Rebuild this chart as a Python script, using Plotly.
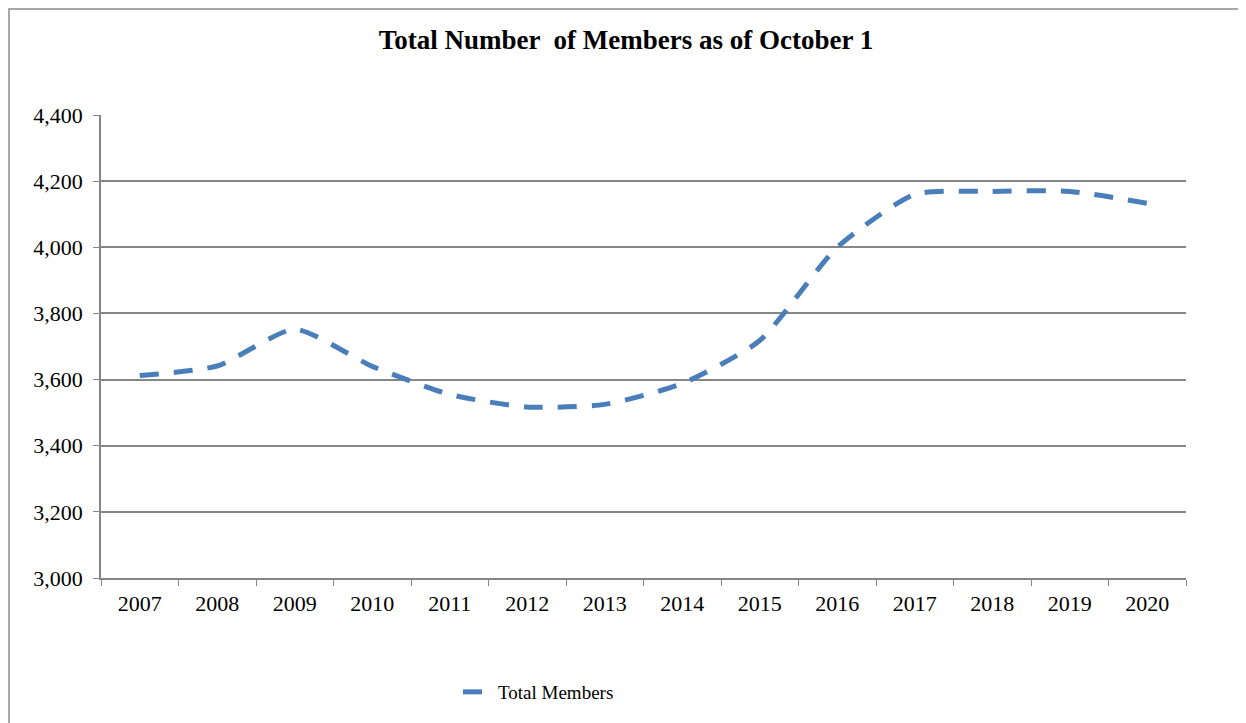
import plotly.graph_objects as go

years = ["2007", "2008", "2009", "2010", "2011", "2012", "2013",
         "2014", "2015", "2016", "2017", "2018", "2019", "2020"]
total_members = [3612, 3641, 3752, 3640, 3555, 3517, 3525,
                 3588, 3718, 4000, 4160, 4169, 4169, 4133]
y_ticks = [3000, 3200, 3400, 3600, 3800, 4000, 4200, 4400]

# page body has an 8px margin, so figure pixel positions are offset by 8
OFF = 8
W, H = 1238, 715
L, R, T, B = 101 - OFF, 60, 115 - OFF, 145
pw, ph = W - L - R, H - T - B

def px_x(p):
    return (p - OFF - L) / pw

def px_y(p):
    return (H - B - (p - OFF)) / ph

fig = go.Figure()
fig.add_trace(go.Scatter(
    x=years, y=total_members, mode="lines", name="Total Members",
    line=dict(color="#4A7EBB", width=5, dash="19px,15px", shape="spline", smoothing=0.6),
))

fig.update_layout(
    width=W, height=H,
    margin=dict(l=L, r=R, t=T, b=B),
    paper_bgcolor="white", plot_bgcolor="white",
    font=dict(family="Liberation Serif, Times New Roman, serif", color="black", size=22),
    title=dict(text="<b>Total Number  of Members as of October 1</b>",
               x=px_x(626), xref="paper", xanchor="center",
               y=1 - (40 - OFF) / H, yanchor="middle",
               font=dict(size=27, family="Liberation Serif, Times New Roman, serif")),
    showlegend=True,
    legend=dict(orientation="h", x=px_x(458), xanchor="left",
                y=px_y(692), yanchor="middle",
                font=dict(size=19), bgcolor="rgba(0,0,0,0)"),
    shapes=[dict(type="rect", xref="paper", yref="paper",
                 x0=px_x(OFF + 1), x1=px_x(1240), y0=px_y(740), y1=px_y(OFF + 1),
                 line=dict(color="#8c8c8c", width=1.5), layer="below")],
)

fig.update_xaxes(
    type="category", range=[-0.5, 13.5],
    showline=True, linecolor="#868686", linewidth=1.5,
    ticks="outside", tickson="boundaries", ticklen=6, tickcolor="#868686",
    showgrid=False, tickfont=dict(size=22), ticklabelstandoff=5,
)
fig.update_yaxes(
    range=[3000, 4400], tickvals=y_ticks,
    ticktext=[f"{v:,}" for v in y_ticks],
    showline=True, linecolor="#868686", linewidth=1.5,
    ticks="outside", ticklen=6, tickcolor="#868686",
    showgrid=True, gridcolor="#868686", gridwidth=1.5,
    tickfont=dict(size=22), zeroline=False, ticklabelstandoff=6,
)

fig.write_html("out.html")
